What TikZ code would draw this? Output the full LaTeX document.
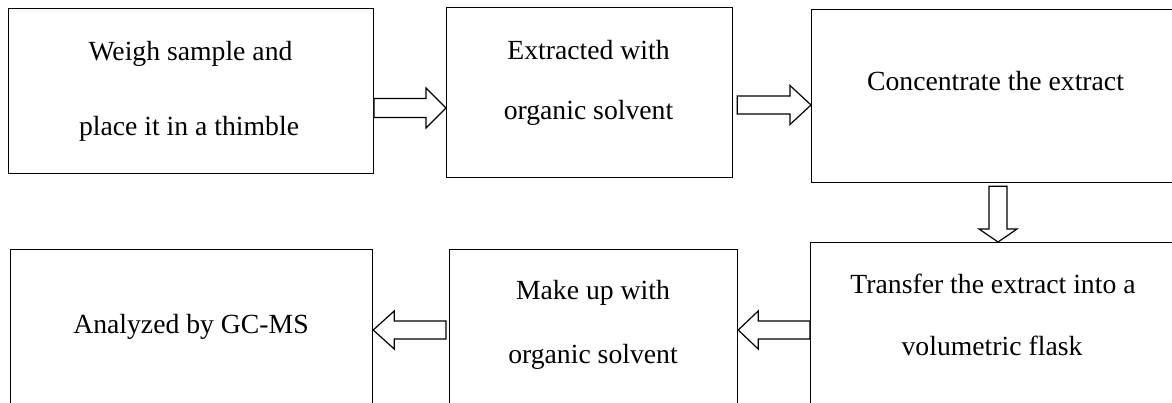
\documentclass[tikz,border=0pt]{standalone}
\usepackage{fontspec}
\setmainfont{Liberation Serif}
\usetikzlibrary{calc}
\tikzset{
  box/.style={draw=black, line width=1.2pt, rectangle, inner sep=0pt, anchor=north west},
  txt/.style={anchor=base, inner sep=0pt, font=\fontsize{27.7}{33}\selectfont},
  blockarrow/.style={draw=black, line width=1.2pt, fill=white, line join=miter}
}
% #1 tail, #2 tip, #3 shaft half width, #4 head half width, #5 head length
\newcommand\blockarrowpath[5]{%
  \draw[blockarrow] let \p1=#1, \p2=#2, \p3=($(\p2)!#5!(\p1)$) in
    ($(\p1)!#3!90:(\p2)$) -- ($(\p3)!#3!-90:(\p1)$) -- ($(\p3)!#4!-90:(\p1)$)
    -- (\p2) -- ($(\p3)!#4!90:(\p1)$) -- ($(\p3)!#3!90:(\p1)$)
    -- ($(\p1)!#3!-90:(\p2)$) -- cycle;}
\begin{document}
\begin{tikzpicture}[x=1pt,y=-1pt]
\useasboundingbox (0,0) rectangle (1172,402);
\clip (0,0) rectangle (1172,402);
% boxes
\node[box, minimum width=365pt, minimum height=165pt] (b1) at (7.7,8) {};
\node[box, minimum width=286pt, minimum height=170pt] (b2) at (446,7) {};
\node[box, minimum width=369pt, minimum height=173pt] (b3) at (811,9) {};
\node[box, minimum width=370pt, minimum height=200pt] (b4) at (810,242) {};
\node[box, minimum width=288pt, minimum height=200pt] (b5) at (449,249) {};
\node[box, minimum width=362pt, minimum height=200pt] (b6) at (10,249) {};
% texts
\node[txt] (t1a) at (190.5,60) {Weigh sample and};
\node[txt] (t1b) at (189,135) {place it in a thimble};
\node[txt] (t2a) at (588.5,59) {Extracted with};
\node[txt] (t2b) at (588.5,119) {organic solvent};
\node[txt] (t3a) at (995.5,90) {Concentrate the extract};
\node[txt] (t4a) at (993,293) {Transfer the extract into a};
\node[txt] (t4b) at (992,355) {volumetric flask};
\node[txt] (t5a) at (593,299) {Make up with};
\node[txt] (t5b) at (593,363) {organic solvent};
\node[txt] (t6a) at (191,333) {Analyzed by GC-MS};
% block arrows
\blockarrowpath{(b1.east |- 0,108)}{(b2.west |- 0,108)}{9.5pt}{20pt}{20pt}
\blockarrowpath{($(b2.east |- 0,105)+(4,0)$)}{(b3.west |- 0,105)}{9pt}{19.5pt}{21pt}
\blockarrowpath{($(b3.south -| 998,0)+(0,3)$)}{(b4.north -| 998,0)}{9pt}{19pt}{13pt}
\blockarrowpath{(b4.west |- 0,330)}{(b5.east |- 0,330)}{9pt}{19pt}{20pt}
\blockarrowpath{($(b5.west |- 0,330)+(-3,0)$)}{(b6.east |- 0,330)}{9pt}{19pt}{21pt}
\end{tikzpicture}
\end{document}
